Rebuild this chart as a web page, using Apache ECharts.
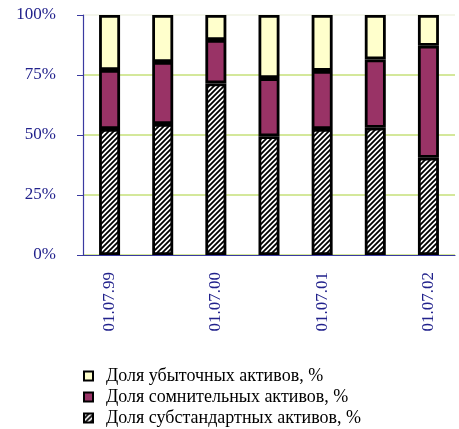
<!DOCTYPE html>
<html>
<head>
<meta charset="utf-8">
<script src="https://cdn.jsdelivr.net/npm/echarts@6/dist/echarts.min.js"></script>
<style>
html,body{margin:0;padding:0;background:#fff;}
#chart{width:459px;height:429px;}
</style>
</head>
<body>
<div id="chart"></div>
<script>
var categories = ['01.07.99', '01.01.00', '01.07.00', '01.01.01', '01.07.01', '01.01.02', '01.07.02'];
var substandard = [52.5, 54.6, 71.5, 49.5, 52.5, 53.0, 40.5];
var doubtful = [24.6, 25.8, 18.1, 24.2, 24.2, 28.5, 46.7];
var loss = [22.9, 19.6, 10.4, 26.3, 23.3, 18.5, 12.8];
var seriesNames = ['Доля субстандартных активов, %', 'Доля сомнительных активов, %', 'Доля убыточных активов, %'];
var yTicks = [0, 25, 50, 75, 100];

function hatch() {
  var s = 5;
  var c = document.createElement('canvas');
  c.width = s; c.height = s;
  var g = c.getContext('2d');
  g.fillStyle = '#fff';
  g.fillRect(0, 0, s, s);
  g.strokeStyle = '#000';
  g.lineWidth = 1.8;
  g.beginPath();
  g.moveTo(-1, s + 1); g.lineTo(s + 1, -1);
  g.moveTo(-1, 1); g.lineTo(1, -1);
  g.moveTo(s - 1, s + 1); g.lineTo(s + 1, s - 1);
  g.stroke();
  return c;
}

var chart = echarts.init(document.getElementById('chart'), null, {renderer: 'canvas'});
var font = '"Liberation Serif", "Times New Roman", serif';
var navy = '#22228c';
var barBase = {type: 'bar', stack: 's', barWidth: 21, animation: false};

chart.setOption({
  animation: false,
  grid: {left: 83, top: 15, right: 4, bottom: 174},
  legend: {
    orient: 'vertical', left: 83, top: 367, padding: 0,
    itemWidth: 9, itemHeight: 9, itemGap: 3,
    data: [seriesNames[2], seriesNames[1], seriesNames[0]],
    textStyle: {fontFamily: font, fontSize: 18, lineHeight: 18, color: '#000', padding: [0, 0, 0, 8]},
    icon: 'rect',
    itemStyle: {borderColor: '#000', borderWidth: 2}
  },
  xAxis: {
    type: 'category', data: categories, boundaryGap: true,
    axisLine: {lineStyle: {color: '#3a3aa0', width: 1.2}},
    axisTick: {interval: 0, length: 6, lineStyle: {color: '#3a3aa0'}},
    axisLabel: {interval: 1, rotate: 90, margin: 17, fontFamily: font, fontSize: 17, color: navy}
  },
  yAxis: {
    type: 'value', min: yTicks[0], max: yTicks[yTicks.length - 1], interval: 25,
    axisLine: {show: true, lineStyle: {color: '#3a3aa0', width: 1.2}},
    axisTick: {show: true, length: 6, lineStyle: {color: '#3a3aa0'}},
    axisLabel: {margin: 27, fontFamily: font, fontSize: 17, color: navy, formatter: '{value}%'},
    splitLine: {show: true, lineStyle: {color: ['#c6e07a', '#c6e07a', '#c6e07a', '#c6e07a', '#f1f3e4'], width: 1.5}}
  },
  series: [
    Object.assign({}, barBase, {name: seriesNames[0], data: substandard,
      itemStyle: {color: {image: hatch(), repeat: 'repeat'}, borderColor: '#000', borderWidth: 2.8}}),
    Object.assign({}, barBase, {name: seriesNames[1], data: doubtful,
      itemStyle: {color: '#993366', borderColor: '#000', borderWidth: 2.8}}),
    Object.assign({}, barBase, {name: seriesNames[2], data: loss,
      itemStyle: {color: '#ffffcc', borderColor: '#000', borderWidth: 2.8}})
  ]
});
</script>
</body>
</html>
